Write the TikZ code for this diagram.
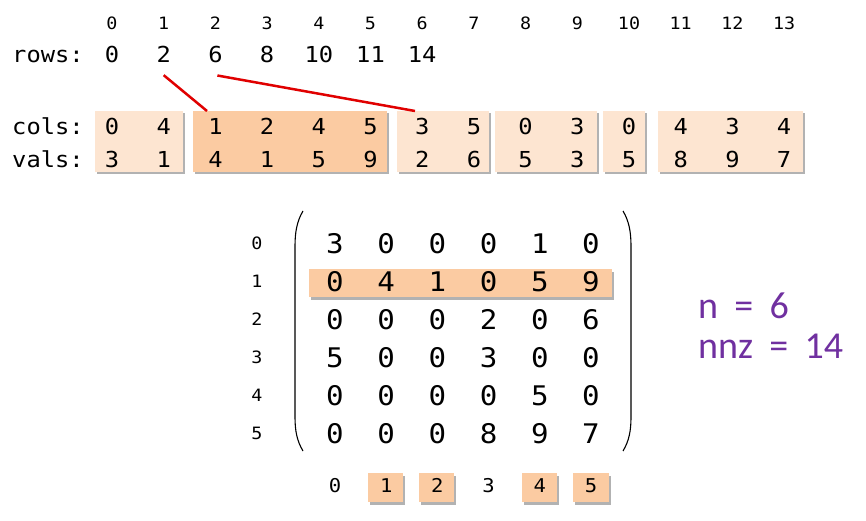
\documentclass[tikz,border=0pt]{standalone}
\usepackage{fontspec}
\setmonofont{DejaVu Sans Mono}[FakeStretch=1.08]
\newfontfamily\calib{Carlito}
\usetikzlibrary{shadows}
\definecolor{lightpeach}{HTML}{FDE5D1}
\definecolor{darkpeach}{HTML}{FBCBA2}
\definecolor{redline}{HTML}{E00000}
\definecolor{purp}{HTML}{7030A0}
\newcommand{\gap}{\hspace{0.43em}}
\begin{document}
\begin{tikzpicture}[x=1pt,y=-1pt,
  txt/.style={inner sep=0pt, anchor=base, font=\ttfamily\fontsize{22}{22}\selectfont},
  lbl/.style={inner sep=0pt, anchor=base west, font=\ttfamily\fontsize{22}{22}\selectfont},
  idx/.style={inner sep=0pt, anchor=base, font=\ttfamily\fontsize{17}{17}\selectfont},
  mtx/.style={inner sep=0pt, anchor=base, font=\ttfamily\fontsize{27}{27}\selectfont},
  bidx/.style={inner sep=0pt, anchor=base, font=\ttfamily\fontsize{19}{19}\selectfont},
  info/.style={inner sep=0pt, anchor=base west, text=purp, font=\calib\fontsize{38}{38}\selectfont},
  boxbase/.style={draw=none, inner sep=0pt, drop shadow={shadow xshift=2pt, shadow yshift=-2.5pt, fill=black, opacity=0.3}},
  lightbox/.style={boxbase, fill=lightpeach},
  darkbox/.style={boxbase, fill=darkpeach},
  redconn/.style={draw=redline, line width=2.5pt},
  paren/.style={draw=black, line width=1.1pt}
]
\useasboundingbox (0,0) rectangle (866,521);
\fill[white] (0,0) rectangle (866,521);

% index row
\foreach \i in {0,...,13}
  \node[idx] (i\i) at ({112+51.7*\i},30) {\i};

% rows
\node[lbl] (rowslbl) at (12,63) {rows:};
\foreach \v [count=\i from 0] in {0,2,6,8,10,11,14}
  \node[txt] (r\i) at ({112+51.7*\i},63) {\v};

% boxes for cols/vals
\node[lightbox, minimum width=88pt, minimum height=61pt] (b1) at (139,141.5) {};
\node[darkbox,  minimum width=194pt, minimum height=61pt] (b2) at (290,141.5) {};
\node[lightbox, minimum width=92pt, minimum height=61pt] (b3) at (443,141.5) {};
\node[lightbox, minimum width=102pt, minimum height=61pt] (b4) at (546,141.5) {};
\node[lightbox, minimum width=42pt, minimum height=61pt] (b5) at (624,141.5) {};
\node[lightbox, minimum width=145pt, minimum height=61pt] (b6) at (730.5,141.5) {};

\node[lbl] (colslbl) at (12,135) {cols:};
\node[lbl] (valslbl) at (12,168) {vals:};
\foreach \v [count=\i from 0] in {0,4,1,2,4,5,3,5,0,3,0,4,3,4}
  \node[txt] (c\i) at ({112+51.7*\i},135) {\v};
\foreach \v [count=\i from 0] in {3,1,4,1,5,9,2,6,5,3,5,8,9,7}
  \node[txt] (v\i) at ({112+51.7*\i},168) {\v};

% red connectors
\coordinate (e1) at (207,111);
\coordinate (e2) at (415,111);
\draw[redconn] ([yshift=-12pt]r1.south) -- (e1);
\draw[redconn] ([yshift=-12pt,xshift=2pt]r2.south) -- (e2);

% matrix highlight
\node[darkbox, minimum width=303pt, minimum height=28pt] (hl) at (460.5,283) {};

% parentheses
\draw[paren] (303,211) .. controls (297,221) and (295,232) .. (295,246) -- (295,417) .. controls (295,431) and (297,441) .. (303,451);
\draw[paren] (623,211) .. controls (629,221) and (631,232) .. (631,246) -- (631,417) .. controls (631,431) and (629,441) .. (623,451);

% matrix entries
\foreach \row [count=\r from 0] in {{3,0,0,0,1,0},{0,4,1,0,5,9},{0,0,0,2,0,6},{5,0,0,3,0,0},{0,0,0,0,5,0},{0,0,0,8,9,7}} {
  \node[idx] (rl\r) at (257,{249+38*\r}) {\r};
  \foreach \v [count=\c from 0] in \row
    \node[mtx] (m\r\c) at ({335+51.2*\c},{253+38*\r}) {\v};
}

% bottom column index
\node[darkbox, minimum width=35pt, minimum height=29pt] (bb1) at (385.5,487.5) {};
\node[darkbox, minimum width=35pt, minimum height=29pt] (bb2) at (436.5,487.5) {};
\node[darkbox, minimum width=35pt, minimum height=29pt] (bb4) at (539.5,487.5) {};
\node[darkbox, minimum width=36pt, minimum height=29pt] (bb5) at (591,487.5) {};
\foreach \j in {0,...,5}
  \node[bidx] (ci\j) at ({335+51.2*\j},492) {\j};

% info
\node[info] (n) at (698,318) {n\gap=\gap6};
\node[info] (nnz) at (698,358) {nnz\gap=\gap14};
\end{tikzpicture}
\end{document}
